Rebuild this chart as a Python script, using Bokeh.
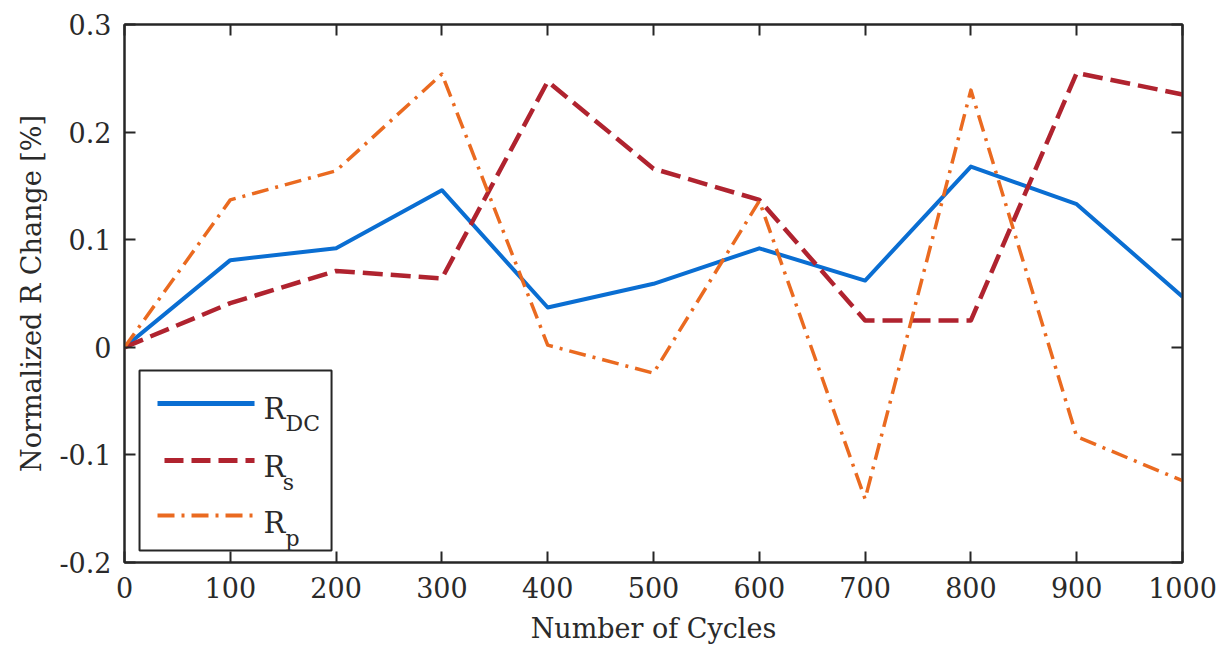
from bokeh.plotting import figure
from bokeh.models import LinearAxis, FixedTicker
from bokeh.core.properties import value
from bokeh.embed import file_html
from bokeh.resources import INLINE

# ---- data ----
cycles = [0, 100, 200, 300, 400, 500, 600, 700, 800, 900, 1000]
r_dc = [0.0, 0.081, 0.092, 0.146, 0.037, 0.059, 0.092, 0.062, 0.168, 0.133, 0.047]
r_s = [0.0, 0.041, 0.071, 0.064, 0.247, 0.166, 0.137, 0.025, 0.025, 0.255, 0.235]
r_p = [0.0, 0.137, 0.164, 0.254, 0.002, -0.024, 0.136, -0.141, 0.239, -0.083, -0.124]

x_ticks = [0, 100, 200, 300, 400, 500, 600, 700, 800, 900, 1000]
y_ticks = [-0.2, -0.1, 0.0, 0.1, 0.2, 0.3]
y_tick_labels = ["-0.2", "-0.1", "0", "0.1", "0.2", "0.3"]

x_label = "Number of Cycles"
y_label = "Normalized R Change [%]"
series_names = [("R", "DC"), ("R", "s"), ("R", "p")]

# ---- style ----
FONT = "DejaVu Serif"
TXT = "#2a2a2a"
AX = "#262626"
C_DC = "#0a6ed2"
C_S = "#b0232f"
C_P = "#ea6a20"

X0, X1 = 0, 1000
Y0, Y1 = -0.2, 0.3

p = figure(width=1224, height=664, x_range=(X0, X1), y_range=(Y0, Y1),
           output_backend="svg", toolbar_location=None,
           min_border_left=124, min_border_right=42,
           min_border_top=24, min_border_bottom=102)
p.background_fill_color = "white"
p.border_fill_color = "white"
p.outline_line_color = AX
p.outline_line_width = 2
p.xgrid.visible = False
p.ygrid.visible = False


def style_axis(ax, ticks, labels=None, show_labels=True):
    ax.ticker = FixedTicker(ticks=ticks)
    ax.minor_tick_line_color = None
    ax.major_tick_in = 11
    ax.major_tick_out = 0
    ax.major_tick_line_width = 2
    ax.major_tick_line_color = AX
    ax.axis_line_color = AX
    ax.axis_line_width = 2
    ax.major_label_text_font = FONT
    ax.major_label_text_font_size = "27px"
    ax.major_label_text_color = TXT
    ax.axis_label_text_font = FONT
    ax.axis_label_text_font_size = "27px"
    ax.axis_label_text_font_style = "normal"
    ax.axis_label_text_color = TXT
    if show_labels:
        if labels is not None:
            ax.major_label_overrides = {t: l for t, l in zip(ticks, labels)}
    else:
        ax.major_label_overrides = {t: "" for t in ticks}


style_axis(p.xaxis[0], x_ticks, [str(t) for t in x_ticks])
style_axis(p.yaxis[0], y_ticks, y_tick_labels)
p.xaxis[0].axis_label = x_label
p.yaxis[0].axis_label = y_label
p.xaxis[0].major_label_standoff = 14
p.xaxis[0].axis_label_standoff = 12
p.yaxis[0].major_label_standoff = 13
p.yaxis[0].axis_label_standoff = 9

top = LinearAxis()
style_axis(top, x_ticks, show_labels=False)
p.add_layout(top, "above")
right = LinearAxis()
style_axis(right, y_ticks, show_labels=False)
p.add_layout(right, "right")

# ---- data lines ----
p.line(cycles, r_dc, line_color=C_DC, line_width=4, line_join="round")
p.line(cycles, r_s, line_color=C_S, line_width=4.5, line_dash="20 8", line_join="round")
p.line(cycles, r_p, line_color=C_P, line_width=3.5, line_dash="17 7 3 7", line_join="round")


# ---- legend (placed in frame fractions) ----
def fx(f):
    return X0 + f * (X1 - X0)


def fy(f):
    return Y0 + f * (Y1 - Y0)


p.quad(left=[fx(0.0142)], right=[fx(0.1957)], bottom=[fy(0.0223)], top=[fy(0.357)],
       fill_color="white", line_color=AX, line_width=2)

rows = [0.2955, 0.1896, 0.0874]
styles = [
    dict(line_color=C_DC, line_width=5),
    dict(line_color=C_S, line_width=5, line_dash="19 8"),
    dict(line_color=C_P, line_width=4, line_dash="17 7 3 7"),
]
starts = [0.0312, 0.0378, 0.0312]
for ry, st, sx in zip(rows, styles, starts):
    p.line([fx(sx), fx(0.1229)], [fy(ry), fy(ry)], **st)

main_base = [0.2862, 0.1766, 0.0725]
sub_base = [0.2584, 0.1487, 0.0446]
sub_x = [0.1522, 0.1495, 0.1522]
for (main, sub), mb, sb, sxx in zip(series_names, main_base, sub_base, sub_x):
    p.text(x=[fx(0.1314)], y=[fy(mb)], text=[main], text_font=value(FONT),
           text_font_size=value("29px"), text_color=TXT,
           text_baseline="alphabetic", text_align="left")
    p.text(x=[fx(sxx)], y=[fy(sb)], text=[sub], text_font=value(FONT),
           text_font_size=value("22px"), text_color=TXT,
           text_baseline="alphabetic", text_align="left")

open("out.html", "w").write(file_html(p, INLINE))
